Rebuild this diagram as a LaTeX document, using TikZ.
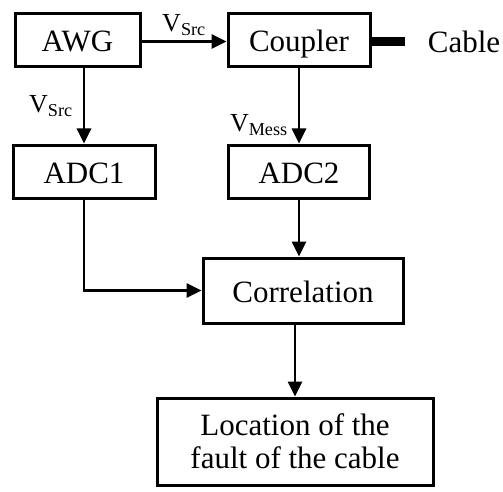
\documentclass[tikz,border=0pt]{standalone}
\usepackage{fontspec}
\setmainfont{Liberation Serif}
\usetikzlibrary{arrows.meta,positioning}
\begin{document}
\begin{tikzpicture}[x=1pt, y=-1pt, line width=2.6pt,
    >={Triangle[length=15pt,width=14pt]},
    block/.style={draw, line width=3pt, inner sep=0pt, font=\fontsize{31}{33}\selectfont},
    oneline/.style={text height=23pt, text depth=0pt},
    lab/.style={font=\fontsize{26}{30}\selectfont, inner sep=4pt}]
    \useasboundingbox (0,0) rectangle (503,492);

    % top row: generator and coupler
    \node[block, oneline, minimum width=125pt, minimum height=53pt] (awg) at (77.5,40.5) {AWG};
    \node[block, oneline, minimum width=142pt, minimum height=53pt] (coupler) at (299,40.5) {Coupler};
    \coordinate (cableend) at (405,41.5);
    \node[font=\fontsize{31}{33}\selectfont] (cable) at (464,42) {Cable};
    \draw[line width=9pt] (coupler.east |- cableend) -- (cableend);

    % second row: converters
    \node[block, oneline, minimum width=142pt, minimum height=53pt] (adc1) at (84,171.5) {ADC1};
    \node[block, oneline, minimum width=141pt, minimum height=53pt] (adc2) at (299,171.5) {ADC2};

    % lower part
    \node[block, oneline, minimum width=200pt, minimum height=65pt] (corr) at (303,290.5) {Correlation};
    \node[block, minimum width=276pt, minimum height=87pt, align=center] (loc) at (295,441.5)
        {Location of the\\fault of the cable};

    % connectors
    \draw[->] (awg.east |- cableend) -- (coupler.west |- cableend)
        node[midway, lab, above=1pt] (vsrca) {V\textsubscript{Src}};
    \draw[->] (awg.south -| adc1.north) -- (adc1.north)
        node[midway, lab, left=6pt] (vsrcb) {V\textsubscript{Src}};
    \draw[->] (coupler.south) -- (adc2.north)
        node[pos=0.75, lab, left=6pt] (vmess) {V\textsubscript{Mess}};
    \draw[->] (adc2.south) -- (adc2.south |- corr.north);
    \draw[->] (adc1.south) |- (corr.west);
    \draw[->] (corr.south -| loc.north) -- (loc.north);
\end{tikzpicture}
\end{document}
